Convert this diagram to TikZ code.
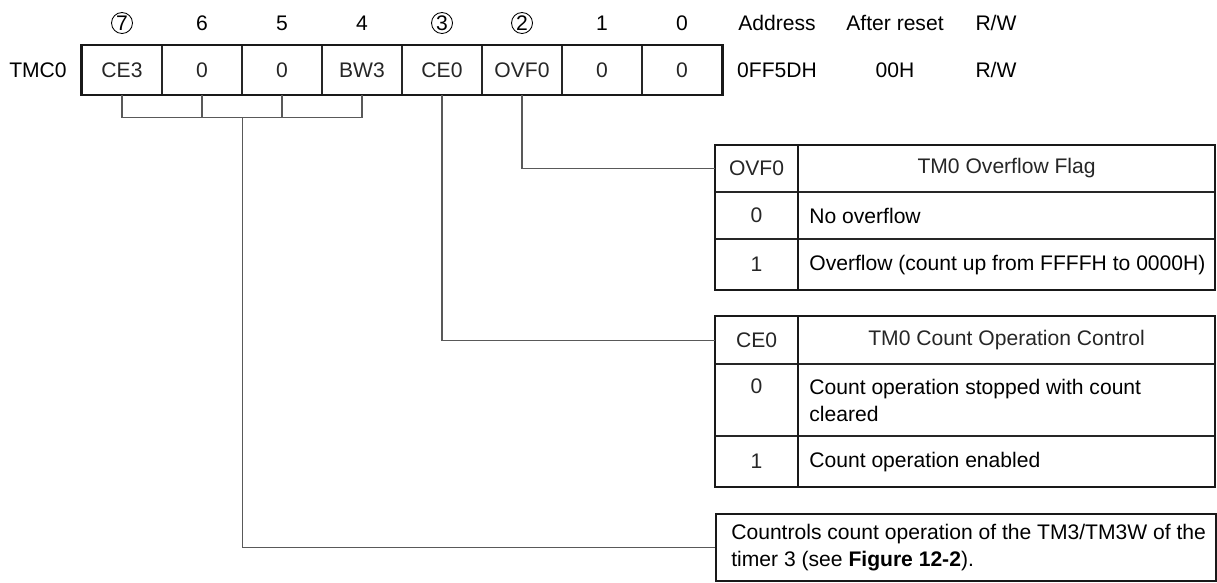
\documentclass[tikz,border=0pt]{standalone}
\usepackage{fontspec}
\setmainfont{Liberation Sans}
\usetikzlibrary{positioning,calc}
\newlength\pxunit
\setlength\pxunit{0.02cm}

\begin{document}
\begin{tikzpicture}[
        x=0.02cm, y=-0.02cm,
        every node/.style={font=\fontsize{12}{15.5}\selectfont, inner sep=0pt},
        thinLine/.style={line width=0.6pt, black!85},
        thickLine/.style={line width=1.2pt, black!90},
        linkLine/.style={line width=0.6pt, black!65},
        bitCell/.style={draw, thinLine, minimum width=80*\pxunit, minimum height=49*\pxunit},
        bitNum/.style={minimum size=21*\pxunit},
        bitMark/.style={bitNum, draw, circle, line width=0.5pt},
        keyCell/.style={draw, thinLine, minimum width=82*\pxunit, anchor=north west, align=center},
        descCell/.style={draw, thinLine, minimum width=416*\pxunit, anchor=north west},
        descText/.style={anchor=west, align=left},
        noteBox/.style={draw, thickLine, minimum width=500*\pxunit, minimum height=67*\pxunit, anchor=north west}
    ]
        \useasboundingbox (0,0) rectangle (1217,582);

        % Register TMC0 and its eight bits
        \node (regName) at (38,70) {TMC0};
        \foreach \lbl [count=\i from 0] in {CE3,0,0,BW3,CE0,OVF0,0,0}
            \node[bitCell] (c\i) at ({122+80*\i},70) {\lbl};
        \draw[thickLine] (c0.north west) rectangle (c7.south east);

        % Bit numbers, the described ones circled
        \foreach \b/\st [count=\i from 0] in {7/bitMark,6/bitNum,5/bitNum,4/bitNum,3/bitMark,2/bitMark,1/bitNum,0/bitNum}
            \node[\st] (b\i) at (c\i.center |- 0,23) {\b};

        % Address, reset value and access
        \node (addrHd) at (777,23) {Address};
        \node (rstHd) at (895,23) {After reset};
        \node (rwHd) at (996,23) {R/W};
        \node (addrVal) at (777,70) {0FF5DH};
        \node (rstVal) at (895,70) {00H};
        \node (rwVal) at (996,70) {R/W};

        % Bracket joining CE3, 6, 5 and BW3
        \draw[linkLine] (c0.south) -- ++(0,22) coordinate (brk) -| (c3.south);
        \draw[linkLine] (c1.south) -- (c1.south |- brk);
        \draw[linkLine] (c2.south) -- (c2.south |- brk);

        % OVF0 table
        \node[keyCell, minimum height=46*\pxunit] (ovfH) at (715,145) {OVF0};
        \node[descCell, minimum height=46*\pxunit] (ovfHd) at (ovfH.north east) {TM0 Overflow Flag};
        \node[keyCell, minimum height=46*\pxunit] (ovfK0) at (ovfH.south west) {0};
        \node[descCell, minimum height=46*\pxunit] (ovfD0) at (ovfK0.north east) {};
        \node[descText] (ovfT0) at ([xshift=11*\pxunit]ovfD0.west) {No overflow};
        \node[keyCell, minimum height=50*\pxunit] (ovfK1) at (ovfK0.south west) {1};
        \node[descCell, minimum height=50*\pxunit] (ovfD1) at (ovfK1.north east) {};
        \node[descText] (ovfT1) at ([xshift=11*\pxunit]ovfD1.west) {Overflow (count up from FFFFH to 0000H)};
        \draw[thickLine] (ovfH.north west) rectangle (ovfD1.south east);
        \draw[thickLine] (ovfH.north east) -- (ovfK1.south east);
        \draw[linkLine] (c5.south) |- (ovfH.west);

        % CE0 table
        \node[keyCell, minimum height=47*\pxunit] (ceH) at (715,316) {CE0};
        \node[descCell, minimum height=47*\pxunit] (ceHd) at (ceH.north east) {TM0 Count Operation Control};
        \node[keyCell, minimum height=71*\pxunit] (ceK0) at (ceH.south west) {0\\\phantom{0}};
        \node[descCell, minimum height=71*\pxunit] (ceD0) at (ceK0.north east) {};
        \node[descText] (ceT0) at ([xshift=11*\pxunit]ceD0.west) {Count operation stopped with count\\cleared};
        \node[keyCell, minimum height=50*\pxunit] (ceK1) at (ceK0.south west) {1};
        \node[descCell, minimum height=50*\pxunit] (ceD1) at (ceK1.north east) {};
        \node[descText] (ceT1) at ([xshift=11*\pxunit]ceD1.west) {Count operation enabled};
        \draw[thickLine] (ceH.north west) rectangle (ceD1.south east);
        \draw[thickLine] (ceH.north east) -- (ceK1.south east);
        \draw[linkLine] (c4.south) |- (ceH.west);

        % Note for CE3 to BW3
        \node[noteBox] (note) at (715,513) {};
        \node[descText] (noteText) at ([xshift=16*\pxunit]note.west) {Countrols count operation of the TM3/TM3W of the\\timer 3 (see \textbf{Figure 12-2}).};
        \draw[linkLine] (c1.south east |- brk) |- (note.west);

    \end{tikzpicture}
\end{document}
